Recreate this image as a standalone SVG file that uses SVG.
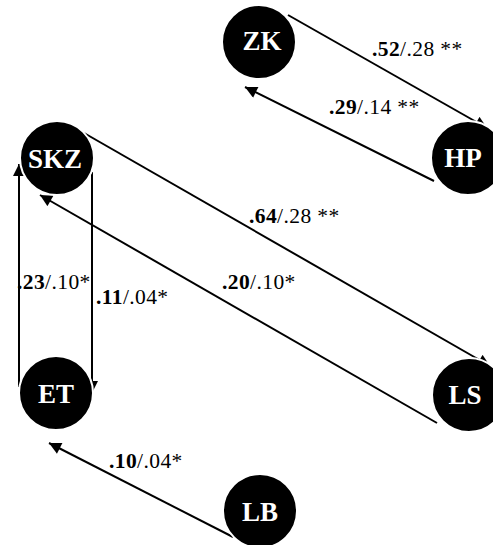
<svg xmlns="http://www.w3.org/2000/svg" width="493" height="545" viewBox="0 0 493 545">
  <defs>
    <marker id="head" viewBox="0 0 10 10" refX="10" refY="5" markerWidth="6.5" markerHeight="6" orient="auto" markerUnits="strokeWidth">
      <path d="M0,0 L10,5 L0,10 z" fill="#000"/>
    </marker>
  </defs>
  <rect width="493" height="545" fill="#fff"/>

  <!-- directed paths between constructs -->
  <g id="connectors" stroke="#000" stroke-width="2" fill="none" marker-end="url(#head)">
    <line x1="288" y1="15" x2="487" y2="128"/>
    <line x1="434" y1="181" x2="245" y2="87"/>
    <line x1="84" y1="133" x2="490" y2="366"/>
    <line x1="437" y1="423" x2="40" y2="195"/>
    <line x1="19" y1="387" x2="19" y2="164"/>
    <line x1="92" y1="172" x2="92" y2="393"/>
    <line x1="233" y1="537" x2="49" y2="443"/>
  </g>

  <!-- construct nodes: black discs with a white rim -->
  <g id="ZK"><circle cx="259" cy="42" r="37" fill="#000" stroke="#fff" stroke-width="2"/><text x="262" y="50" font-family="Liberation Serif" font-size="27" font-weight="bold" fill="#fff" text-anchor="middle">ZK</text></g>
  <g id="HP"><circle cx="468" cy="158" r="37" fill="#000" stroke="#fff" stroke-width="2"/><text x="463" y="167" font-family="Liberation Serif" font-size="27" font-weight="bold" fill="#fff" text-anchor="middle">HP</text></g>
  <g id="SKZ"><circle cx="57" cy="158" r="37" fill="#000" stroke="#fff" stroke-width="2"/><text x="55" y="168" font-family="Liberation Serif" font-size="27" font-weight="bold" fill="#fff" text-anchor="middle">SKZ</text></g>
  <g id="ET"><circle cx="56" cy="393" r="37" fill="#000" stroke="#fff" stroke-width="2"/><text x="56" y="403" font-family="Liberation Serif" font-size="27" font-weight="bold" fill="#fff" text-anchor="middle">ET</text></g>
  <g id="LS"><circle cx="469" cy="395" r="37" fill="#000" stroke="#fff" stroke-width="2"/><text x="465" y="404" font-family="Liberation Serif" font-size="27" font-weight="bold" fill="#fff" text-anchor="middle">LS</text></g>
  <g id="LB"><circle cx="260" cy="511" r="37" fill="#000" stroke="#fff" stroke-width="2"/><text x="260" y="521" font-family="Liberation Serif" font-size="27" font-weight="bold" fill="#fff" text-anchor="middle">LB</text></g>

  <!-- path coefficients -->
  <g id="labels">
    <text x="372" y="56" font-family="Liberation Serif" font-size="21.5" letter-spacing="0.4"><tspan font-weight="bold">.52</tspan>/.28 **</text>
    <text x="329" y="114" font-family="Liberation Serif" font-size="21.5" letter-spacing="0.4"><tspan font-weight="bold">.29</tspan>/.14 **</text>
    <text x="249" y="223" font-family="Liberation Serif" font-size="21.5" letter-spacing="0.4"><tspan font-weight="bold">.64</tspan>/.28 **</text>
    <text x="222" y="289" font-family="Liberation Serif" font-size="21.5" letter-spacing="0.4"><tspan font-weight="bold">.20</tspan>/.10*</text>
    <text x="17" y="289" font-family="Liberation Serif" font-size="21.5" letter-spacing="0.4"><tspan font-weight="bold">.23</tspan>/.10*</text>
    <text x="96" y="304" font-family="Liberation Serif" font-size="21.5" letter-spacing="0.4"><tspan font-weight="bold">.11</tspan>/.04*</text>
    <text x="109" y="468" font-family="Liberation Serif" font-size="21.5" letter-spacing="0.4"><tspan font-weight="bold">.10</tspan>/.04*</text>
  </g>
</svg>
